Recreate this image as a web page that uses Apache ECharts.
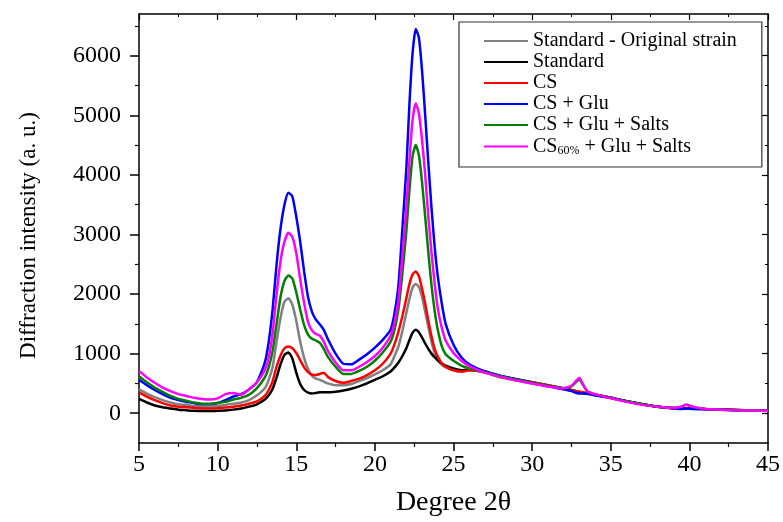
<!DOCTYPE html>
<html>
<head>
<meta charset="utf-8">
<script src="https://cdn.jsdelivr.net/npm/echarts@6/dist/echarts.min.js"></script>
<style>html,body{margin:0;padding:0;background:#fff;}#c{width:783px;height:522px;}</style>
</head>
<body>
<div id="c"></div>
<script>
// 2θ positions (degrees)
const twoTheta = [5,5.5,6,6.5,7,7.5,8,8.5,9,9.5,10,10.5,11,11.5,12,12.5,13,
  13.25,13.5,13.75,14,14.25,14.5,14.75,15,15.25,15.5,15.75,16,16.25,16.5,16.75,17,
  17.5,18,18.5,19,19.5,20,20.5,21,
  21.25,21.5,21.75,22,
  22.2,22.4,22.6,22.8,23,23.2,23.4,23.6,23.8,24,
  24.25,24.5,25,25.5,26,
  27,28,29,30,31,32,32.5,33,33.25,33.5,34,35,36,37,38,39,39.5,39.8,40.2,41,42,43,44,45];

const seriesNames = ['Standard - Original strain','Standard','CS','CS + Glu','CS + Glu + Salts','CS60% + Glu + Salts'];
const seriesColors = ['#808080','#000000','#ff0000','#0000ff','#008000','#ff00ff'];

const stdOriginal = [400,330,270,220,180,150,140,120,110,110,120,140,160,180,220,300,420,
  560,780,1200,1600,1870,1930,1820,1550,1200,930,740,630,580,560,530,500,
  470,470,490,540,590,650,720,820,
  960,1120,1380,1680,
  1920,2110,2170,2120,1950,1700,1450,1200,1010,900,
  810,770,720,700,720,
  680,600,550,500,460,410,380,350,340,320,300,260,200,150,110,85,80,80,80,70,60,55,45,40];

const standard = [240,180,130,100,80,60,50,40,35,35,40,45,60,80,110,150,230,
  300,410,600,820,980,1020,920,680,490,390,345,330,340,350,350,350,
  360,380,410,450,500,560,620,700,
  770,850,960,1090,
  1230,1350,1400,1360,1270,1170,1080,1000,940,890,
  840,800,750,720,730,
  700,620,570,520,470,420,390,360,340,330,310,260,200,150,110,85,80,80,80,70,60,55,45,40];

const cs = [350,280,220,170,130,110,100,90,80,80,85,95,110,130,160,200,290,
  390,540,780,970,1090,1120,1090,1010,890,770,690,645,640,660,680,610,
  540,510,540,580,640,720,830,1000,
  1160,1370,1630,1930,
  2170,2330,2380,2300,2090,1840,1550,1290,1080,950,
  840,780,720,700,720,
  690,610,560,520,470,410,380,360,350,340,310,260,200,150,110,85,80,80,80,70,60,55,45,40];

const csGlu = [560,470,390,320,260,220,190,170,150,150,170,220,280,320,400,520,850,
  1200,1750,2500,3100,3500,3700,3640,3300,2880,2380,1950,1700,1570,1490,1400,1250,
  1000,830,820,900,990,1100,1230,1400,
  1680,2150,3100,4100,
  5200,6050,6450,6300,5750,5000,4200,3450,2800,2300,
  1850,1500,1150,940,820,
  700,630,570,510,450,400,370,330,330,330,300,260,200,150,110,80,70,80,70,65,60,50,45,40];

const csGluSalts = [620,520,430,360,290,240,210,180,160,160,170,190,230,260,310,420,600,
  770,1050,1500,1950,2220,2310,2260,2030,1740,1480,1320,1250,1220,1180,1080,950,
  780,660,660,710,780,880,1020,1200,
  1400,1750,2350,3050,
  3750,4320,4500,4330,3880,3300,2700,2150,1720,1400,
  1130,990,880,800,750,
  690,620,560,510,460,420,450,560,470,370,320,260,200,150,110,90,110,140,110,70,60,50,45,40];

const cs60GluSalts = [710,600,510,430,370,320,290,260,240,230,250,320,340,310,400,520,720,
  930,1350,2000,2550,2880,3030,2960,2690,2250,1850,1530,1390,1330,1300,1200,1050,
  850,720,720,780,860,960,1100,1300,
  1520,1900,2650,3450,
  4250,4930,5200,5030,4580,4000,3300,2700,2180,1760,
  1440,1220,1010,880,790,
  680,610,550,500,450,420,460,590,480,370,320,250,190,140,110,90,110,140,110,70,60,50,45,40];

const yMajorTicks = [0,1000,2000,3000,4000,5000,6000];
const yMinorTicks = [500,1500,2500,3500,4500,5500,6500];

const allValues = [stdOriginal, standard, cs, csGlu, csGluSalts, cs60GluSalts];
const FONT = '"Liberation Serif","Times New Roman",serif';

const chart = echarts.init(document.getElementById('c'), null, {renderer: 'canvas'});

const series = seriesNames.map((name, i) => ({
  name: name,
  type: 'line',
  xAxisIndex: 0,
  yAxisIndex: 0,
  symbol: 'none',
  smooth: 0.2,
  lineStyle: {color: seriesColors[i], width: 2.5},
  itemStyle: {color: seriesColors[i]},
  data: twoTheta.map((x, k) => [x, allValues[i][k]]),
  z: 2 + i
}));

const axisLineStyle = {color: '#000', width: 1.5};

const option = {
  animation: false,
  backgroundColor: '#fff',
  grid: {left: 139, right: 15, top: 14, bottom: 76, containLabel: false},
  legend: {
    orient: 'vertical',
    left: 459, top: 22,
    padding: [9, 25, 10, 25],
    borderColor: '#333', borderWidth: 1.2,
    itemGap: 1,
    itemWidth: 44, itemHeight: 2,
    icon: 'rect',
    data: seriesNames,
    formatter: function (name) {
      if (name === 'CS60% + Glu + Salts') {
        return '{t|CS}{s|60%}{t| + Glu + Salts}';
      }
      return '{t|' + name + '}';
    },
    textStyle: {
      fontFamily: FONT, fontSize: 20, color: '#000', lineHeight: 20,
      rich: {
        t: {fontFamily: FONT, fontSize: 20, color: '#000', lineHeight: 20},
        s: {fontFamily: FONT, fontSize: 12, color: '#000', lineHeight: 12, padding: [9, 0, 0, 0]}
      }
    }
  },
  xAxis: [
    {
      type: 'value', min: 5, max: 45, interval: 5, position: 'bottom',
      name: 'Degree 2θ', nameLocation: 'middle', nameGap: 46,
      nameTextStyle: {fontFamily: FONT, fontSize: 28, color: '#000'},
      axisLine: {show: true, onZero: false, lineStyle: axisLineStyle},
      axisTick: {show: true, length: 8, lineStyle: {color: '#000', width: 1.5}},
      minorTick: {show: true, splitNumber: 2, length: 4, lineStyle: {color: '#000', width: 1.2}},
      axisLabel: {fontFamily: FONT, fontSize: 24, color: '#000', margin: 10},
      splitLine: {show: false}
    },
    {
      type: 'value', min: 5, max: 45, interval: 5, position: 'top',
      axisLine: {show: true, onZero: false, lineStyle: axisLineStyle},
      axisTick: {show: true, inside: true, length: 6, lineStyle: {color: '#000', width: 1.2}},
      minorTick: {show: true, splitNumber: 2, length: 3, lineStyle: {color: '#000', width: 1}},
      axisLabel: {show: false},
      splitLine: {show: false}
    }
  ],
  yAxis: [
    {
      type: 'value', min: -500, max: 6700, position: 'left',
      name: 'Diffraction intensity (a. u.)', nameLocation: 'middle', nameGap: 99,
      nameTextStyle: {fontFamily: FONT, fontSize: 23, color: '#000', padding: [0, 14, 0, 0]},
      axisLine: {show: true, onZero: false, lineStyle: axisLineStyle},
      axisTick: {show: true, length: 9, customValues: yMajorTicks, lineStyle: {color: '#000', width: 1.5}},
      axisLabel: {fontFamily: FONT, fontSize: 24, color: '#000', margin: 18, customValues: yMajorTicks,
        formatter: function (v) { return String(v); }},
      splitLine: {show: false}
    },
    {
      type: 'value', min: -500, max: 6700, position: 'left',
      axisLine: {show: false},
      axisTick: {show: true, length: 4, customValues: yMinorTicks, lineStyle: {color: '#000', width: 1.2}},
      axisLabel: {show: false},
      splitLine: {show: false}
    },
    {
      type: 'value', min: -500, max: 6700, position: 'right',
      axisLine: {show: true, onZero: false, lineStyle: axisLineStyle},
      axisTick: {show: true, inside: true, length: 6, customValues: yMajorTicks, lineStyle: {color: '#000', width: 1.2}},
      axisLabel: {show: false},
      splitLine: {show: false}
    },
    {
      type: 'value', min: -500, max: 6700, position: 'right',
      axisLine: {show: false},
      axisTick: {show: true, inside: true, length: 3, customValues: yMinorTicks, lineStyle: {color: '#000', width: 1}},
      axisLabel: {show: false},
      splitLine: {show: false}
    }
  ],
  series: series
};

chart.setOption(option);
</script>
</body>
</html>
